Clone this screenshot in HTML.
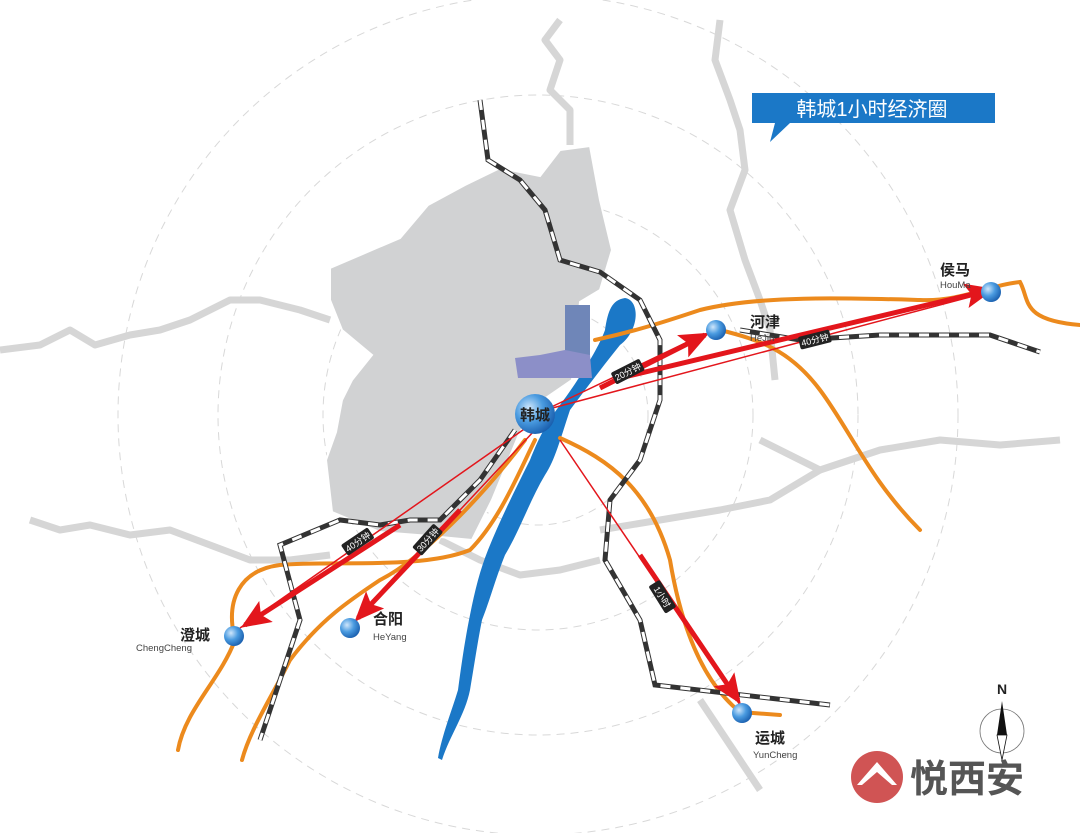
<!DOCTYPE html>
<html><head><meta charset="utf-8"><style>
html,body{margin:0;padding:0;background:#fff;}
svg{display:block;}
text{font-family:"Liberation Sans","Noto Sans CJK SC",sans-serif;}
</style></head><body>
<svg width="1080" height="833" viewBox="0 0 1080 833" xmlns="http://www.w3.org/2000/svg">
<defs>
<radialGradient id="ball" cx="35%" cy="35%" r="70%">
<stop offset="0" stop-color="#cfe6fb"/><stop offset="0.5" stop-color="#4a9be0"/><stop offset="1" stop-color="#1a5fae"/>
</radialGradient>
<marker id="ah" markerWidth="6" markerHeight="5" refX="5" refY="2.5" orient="auto" markerUnits="strokeWidth">
<path d="M0,0 L6,2.5 L0,5 L1.2,2.5z" fill="#e3161c"/></marker>
</defs>
<rect width="1080" height="833" fill="#fff"/>
<!-- dashed circles -->
<g fill="none" stroke="#d8d8d8" stroke-dasharray="8 6" stroke-width="1">
<circle cx="538" cy="415" r="110"/><circle cx="538" cy="415" r="215"/><circle cx="538" cy="415" r="320"/><circle cx="538" cy="415" r="420"/>
</g>
<!-- grey borders -->
<g fill="none" stroke="#d6d6d6" stroke-width="7" stroke-linejoin="round">
<path d="M0,350 L40,345 L70,330 L95,345 L130,335 L160,330 L190,320 L230,300 L260,300 L300,310 L330,320"/>
<path d="M30,520 L60,530 L90,525 L130,535 L170,530 L210,545 L250,560 L290,560 L330,555"/>
<path d="M560,20 L545,40 L560,60 L550,90 L570,110 L570,145"/>
<path d="M720,20 L715,60 L730,100 L740,130 L745,170 L730,210 L745,260 L760,300 L770,330 L775,380"/>
<path d="M760,440 L820,470 L880,450 L940,440 L1000,445 L1060,440"/>
<path d="M600,530 L660,520 L720,510 L770,500 L820,470"/>
<path d="M700,700 L720,730 L740,760 L760,790"/>
<path d="M440,540 L480,560 L520,575 L560,570 L600,560"/>
</g>
<!-- grey region -->
<path d="M330,268 L372,250 L400,238 L428,205 L465,185 L500,168 L540,176 L560,150 L590,146 L600,200 L612,250 L600,290 L580,302 L572,380 L540,402 L520,432 L492,500 L472,540 L430,536 L380,532 L332,512 L326,460 L336,432 L342,400 L352,380 L372,355 L342,330 L330,300Z" fill="#d1d2d3" stroke="#fff" stroke-width="2"/>
<!-- river -->
<path d="M625,298 C640,300 640,330 620,345 C600,370 585,390 570,410 C560,440 555,460 545,475 C530,500 520,530 505,555 C495,580 490,600 482,620 C478,640 475,660 470,690 C465,715 450,735 442,760 L438,758 C442,735 452,710 458,690 C462,660 465,640 470,615 C475,590 480,570 488,550 C500,520 515,490 530,460 C538,440 545,425 560,405 C575,385 598,350 605,330 C608,310 612,300 625,298Z" fill="#1b78c7"/>
<!-- orange roads -->
<g fill="none" stroke="#ec8a1d" stroke-width="4" stroke-linecap="round">
<path d="M595,340 C640,330 670,320 700,310 C760,295 850,298 920,300 C960,302 990,285 1020,282 C1030,300 1020,320 1080,325"/>
<path d="M720,330 C760,340 790,350 820,390 C850,430 870,480 920,530"/>
<path d="M560,438 C610,460 650,490 670,560 C680,620 700,680 740,712 L780,715"/>
<path d="M535,440 C520,470 500,520 470,550 C420,570 330,560 280,565 C240,570 225,600 235,640 C220,680 185,710 178,750"/>
<path d="M525,440 C480,500 420,560 380,580 C350,600 320,620 290,660 C270,700 250,730 242,760"/>
</g>
<!-- railways -->
<g fill="none" stroke-linecap="butt">
<g stroke="#333" stroke-width="5">
<path id="r1" d="M480,100 L488,160 L520,180 L545,210 L560,260 L600,272 L640,300 L660,340 L660,400 L640,460 L610,500 L605,560 L640,620 L655,685 L830,705"/>
<path id="r2" d="M740,330 L800,340 L880,335 L990,335 L1040,352"/>
<path id="r3" d="M515,430 L480,480 L440,520 L410,520 L380,525 L340,520 L280,545 L300,620 L280,680 L260,740"/>
</g>
<g stroke="#fff" stroke-width="3" stroke-dasharray="10 10">
<use href="#r1"/><use href="#r2"/><use href="#r3"/>
</g>
</g>
<!-- red arrows -->
<g stroke="#e3161c" fill="none">
<line x1="545" y1="410" x2="985" y2="293" stroke-width="1.5"/>
<line x1="545" y1="410" x2="700" y2="336" stroke-width="1.5"/>
<line x1="530" y1="425" x2="240" y2="628" stroke-width="1.5"/>
<line x1="535" y1="430" x2="355" y2="622" stroke-width="1.5"/>
<line x1="560" y1="440" x2="740" y2="705" stroke-width="1.5"/>
<line x1="620" y1="378" x2="990" y2="290" stroke-width="5" marker-end="url(#ah)"/>
<line x1="600" y1="388" x2="705" y2="335" stroke-width="5" marker-end="url(#ah)"/>
<line x1="400" y1="525" x2="245" y2="625" stroke-width="5" marker-end="url(#ah)"/>
<line x1="460" y1="510" x2="358" y2="618" stroke-width="5" marker-end="url(#ah)"/>
<line x1="640" y1="555" x2="738" y2="700" stroke-width="5" marker-end="url(#ah)"/>
</g>
<!-- time labels -->
<g font-size="9" fill="#fff">
<g transform="translate(628,372) rotate(-27)"><rect x="-16" y="-7" width="32" height="13" rx="2" fill="#222"/><text x="0" y="3" text-anchor="middle">20分钟</text></g>
<g transform="translate(815,340) rotate(-14)"><rect x="-16" y="-7" width="32" height="13" rx="2" fill="#222"/><text x="0" y="3" text-anchor="middle">40分钟</text></g>
<g transform="translate(358,542) rotate(-34)"><rect x="-16" y="-7" width="32" height="13" rx="2" fill="#222"/><text x="0" y="3" text-anchor="middle">40分钟</text></g>
<g transform="translate(428,540) rotate(-48)"><rect x="-16" y="-7" width="32" height="13" rx="2" fill="#222"/><text x="0" y="3" text-anchor="middle">30分钟</text></g>
<g transform="translate(662,597) rotate(58)"><rect x="-16" y="-7" width="32" height="13" rx="2" fill="#222"/><text x="0" y="3" text-anchor="middle">1小时</text></g>
</g>
<!-- building -->
<rect x="565" y="305" width="25" height="55" fill="#6f86b8"/>
<path d="M515,358 L540,355 L565,350 L590,355 L592,378 L518,378Z" fill="#8c8fc8"/>
<!-- nodes -->
<circle cx="535" cy="414" r="20" fill="url(#ball)"/>
<text x="535" y="420" text-anchor="middle" font-size="15" font-weight="bold" fill="#222">韩城</text>
<circle cx="716" cy="330" r="10" fill="url(#ball)"/>
<circle cx="991" cy="292" r="10" fill="url(#ball)"/>
<circle cx="234" cy="636" r="10" fill="url(#ball)"/>
<circle cx="350" cy="628" r="10" fill="url(#ball)"/>
<circle cx="742" cy="713" r="10" fill="url(#ball)"/>
<g fill="#222" font-weight="bold" font-size="15">
<text x="750" y="327">河津</text><text x="940" y="275">侯马</text><text x="180" y="640">澄城</text><text x="373" y="624">合阳</text><text x="755" y="743">运城</text>
</g>
<g fill="#444" font-size="9.5">
<text x="750" y="341">HeJin</text><text x="940" y="288">HouMa</text><text x="136" y="651">ChengCheng</text><text x="373" y="640">HeYang</text><text x="753" y="758">YunCheng</text>
</g>
<!-- title -->
<path d="M752,93 L995,93 L995,123 L790,123 L770,142 L775,123 L752,123Z" fill="#1b78c7"/>
<text x="872" y="116" text-anchor="middle" font-size="20" fill="#fff">韩城1小时经济圈</text>
<!-- compass -->
<text x="1002" y="694" text-anchor="middle" font-size="14" font-weight="bold" fill="#222">N</text>
<circle cx="1002" cy="731" r="22" fill="none" stroke="#777" stroke-width="0.8"/>
<path d="M1002,701 L1007,735 L997,735Z" fill="#111"/>
<path d="M997,735 L1007,735 L1002,760Z" fill="#fff" stroke="#111" stroke-width="0.8"/>
<!-- logo -->
<circle cx="877" cy="777" r="26" fill="#d05454"/>
<path d="M857,785 L877,762 L897,785 L892,785 L877,772 L862,785Z" fill="#fff"/>
<text x="910" y="792" font-size="38" font-weight="bold" fill="#555">悦西安</text>
</svg>
</body></html>
